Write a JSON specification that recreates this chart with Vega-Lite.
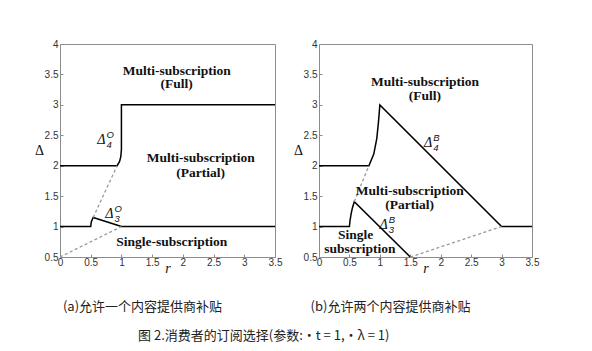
{
  "$schema": "https://vega.github.io/schema/vega-lite/v6.json",
  "background": "white",
  "padding": {"left": 33, "top": 38, "right": 5, "bottom": 5},
  "spacing": 9,
  "config": {
    "view": {"stroke": "#8c8c8c", "strokeWidth": 1},
    "axis": {
      "domain": false, "grid": false, "tickSize": -3, "tickColor": "#8c8c8c", "format": "~g",
      "labelFont": "Liberation Sans", "labelFontSize": 10, "labelColor": "#333333",
      "titleFont": "Liberation Serif", "titleFontWeight": "normal", "titleColor": "#111111"
    },
    "title": {"font": "Noto Sans CJK SC", "fontWeight": "normal", "color": "#222222"}
  },
  "title": {"text": "图 2.消费者的订阅选择(参数:·t = 1,·λ = 1)", "orient": "bottom", "anchor": "middle", "fontSize": 13, "offset": 15, "dx": -23},
  "datasets": {
    "lines": [
      {"panel": "a", "s": "lo", "i": 1, "r": 0, "d": 1},
      {"panel": "a", "s": "lo", "i": 2, "r": 0.5, "d": 1},
      {"panel": "a", "s": "lo", "i": 3, "r": 0.51, "d": 1.08},
      {"panel": "a", "s": "lo", "i": 4, "r": 0.54, "d": 1.15},
      {"panel": "a", "s": "lo", "i": 5, "r": 1, "d": 1},
      {"panel": "a", "s": "lo", "i": 6, "r": 3.5, "d": 1},
      {"panel": "a", "s": "hi", "i": 1, "r": 0, "d": 2},
      {"panel": "a", "s": "hi", "i": 2, "r": 0.93, "d": 2},
      {"panel": "a", "s": "hi", "i": 3, "r": 0.97, "d": 2.07},
      {"panel": "a", "s": "hi", "i": 4, "r": 0.99, "d": 2.15},
      {"panel": "a", "s": "hi", "i": 5, "r": 1, "d": 2.27},
      {"panel": "a", "s": "hi", "i": 6, "r": 1, "d": 3},
      {"panel": "a", "s": "hi", "i": 7, "r": 3.5, "d": 3},
      {"panel": "b", "s": "lo", "i": 1, "r": 0, "d": 1},
      {"panel": "b", "s": "lo", "i": 2, "r": 0.5, "d": 1},
      {"panel": "b", "s": "lo", "i": 3, "r": 0.51, "d": 1.1},
      {"panel": "b", "s": "lo", "i": 4, "r": 0.53, "d": 1.22},
      {"panel": "b", "s": "lo", "i": 5, "r": 0.55, "d": 1.31},
      {"panel": "b", "s": "lo", "i": 6, "r": 0.58, "d": 1.41},
      {"panel": "b", "s": "lo", "i": 7, "r": 1.5, "d": 0.5},
      {"panel": "b", "s": "hi", "i": 1, "r": 0, "d": 2},
      {"panel": "b", "s": "hi", "i": 2, "r": 0.82, "d": 2},
      {"panel": "b", "s": "hi", "i": 3, "r": 0.9, "d": 2.19},
      {"panel": "b", "s": "hi", "i": 4, "r": 0.95, "d": 2.45},
      {"panel": "b", "s": "hi", "i": 5, "r": 0.98, "d": 2.75},
      {"panel": "b", "s": "hi", "i": 6, "r": 1, "d": 3},
      {"panel": "b", "s": "hi", "i": 7, "r": 3, "d": 1},
      {"panel": "b", "s": "hi", "i": 8, "r": 3.5, "d": 1}
    ],
    "dashes": [
      {"panel": "a", "s": "d1", "i": 1, "r": 0, "d": 0.5},
      {"panel": "a", "s": "d1", "i": 2, "r": 1, "d": 1},
      {"panel": "a", "s": "d2", "i": 1, "r": 0.54, "d": 1.15},
      {"panel": "a", "s": "d2", "i": 2, "r": 0.93, "d": 2},
      {"panel": "b", "s": "d1", "i": 1, "r": 1.5, "d": 0.5},
      {"panel": "b", "s": "d1", "i": 2, "r": 3, "d": 1},
      {"panel": "b", "s": "d2", "i": 1, "r": 0.58, "d": 1.41},
      {"panel": "b", "s": "d2", "i": 2, "r": 0.82, "d": 2}
    ],
    "regions": [
      {"panel": "a", "label": "Multi-subscription", "r": 1.9, "d": 3.55},
      {"panel": "a", "label": "(Full)", "r": 1.9, "d": 3.34},
      {"panel": "a", "label": "Multi-subscription", "r": 2.29, "d": 2.12},
      {"panel": "a", "label": "(Partial)", "r": 2.29, "d": 1.88},
      {"panel": "a", "label": "Single-subscription", "r": 1.82, "d": 0.74},
      {"panel": "b", "label": "Multi-subscription", "r": 1.74, "d": 3.38},
      {"panel": "b", "label": "(Full)", "r": 1.74, "d": 3.15},
      {"panel": "b", "label": "Multi-subscription", "r": 1.49, "d": 1.59},
      {"panel": "b", "label": "(Partial)", "r": 1.49, "d": 1.35},
      {"panel": "b", "label": "Single", "r": 0.6, "d": 0.86},
      {"panel": "b", "label": "subscription", "r": 0.67, "d": 0.63}
    ],
    "deltas": [
      {"panel": "a", "sub": "4", "sup": "O", "r": 0.74, "d": 2.42},
      {"panel": "a", "sub": "3", "sup": "O", "r": 0.87, "d": 1.2},
      {"panel": "b", "sub": "4", "sup": "B", "r": 1.86, "d": 2.38},
      {"panel": "b", "sub": "3", "sup": "B", "r": 1.13, "d": 1.03}
    ]
  },
  "hconcat": [
    {
      "width": 215, "height": 213,
      "title": {"text": "(a)允许一个内容提供商补贴", "orient": "bottom", "anchor": "middle", "fontSize": 13, "offset": 26, "dx": -25},
      "encoding": {
        "x": {"field": "r", "type": "quantitative", "scale": {"domain": [0, 3.5], "nice": false, "zero": false},
              "axis": {"values": [0, 0.5, 1, 1.5, 2, 2.5, 3, 3.5], "title": "r", "titleFontStyle": "italic", "titleFontSize": 14, "titlePadding": -6, "labelPadding": 3, "labelFlush": false}},
        "y": {"field": "d", "type": "quantitative", "scale": {"domain": [0.5, 4], "nice": false, "zero": false},
              "axis": {"values": [0.5, 1, 1.5, 2, 2.5, 3, 3.5, 4], "title": "Δ", "titleAngle": 0, "titleFontSize": 14, "titleAlign": "center", "titleBaseline": "middle", "titleX": -21, "titleY": 106, "labelPadding": 5, "labelFlush": false}}
      },
      "layer": [
        {"data": {"name": "lines"}, "transform": [{"filter": "datum.panel == 'a'"}],
         "mark": {"type": "line", "color": "#000000", "strokeWidth": 1.5},
         "encoding": {"detail": {"field": "s"}, "order": {"field": "i", "type": "quantitative"}}},
        {"data": {"name": "dashes"}, "transform": [{"filter": "datum.panel == 'a'"}],
         "mark": {"type": "line", "color": "#999999", "strokeWidth": 1.3, "strokeDash": [3, 2.5]},
         "encoding": {"detail": {"field": "s"}, "order": {"field": "i", "type": "quantitative"}}},
        {"data": {"name": "regions"}, "transform": [{"filter": "datum.panel == 'a'"}],
         "mark": {"type": "text", "font": "Liberation Serif", "fontWeight": "bold", "fontSize": 13.5, "color": "#111111", "baseline": "middle"},
         "encoding": {"text": {"field": "label"}}},
        {"data": {"name": "deltas"}, "transform": [{"filter": "datum.panel == 'a'"}],
         "mark": {"type": "text", "text": "Δ", "font": "Liberation Serif", "fontStyle": "italic", "fontSize": 14, "color": "#111111", "baseline": "middle", "align": "right"}},
        {"data": {"name": "deltas"}, "transform": [{"filter": "datum.panel == 'a'"}],
         "mark": {"type": "text", "font": "Liberation Sans", "fontStyle": "italic", "fontSize": 9.5, "color": "#111111", "baseline": "middle", "align": "left", "dx": 1, "dy": 5},
         "encoding": {"text": {"field": "sub"}}},
        {"data": {"name": "deltas"}, "transform": [{"filter": "datum.panel == 'a'"}],
         "mark": {"type": "text", "font": "Liberation Sans", "fontStyle": "italic", "fontSize": 9.5, "color": "#111111", "baseline": "middle", "align": "left", "dx": 1, "dy": -5},
         "encoding": {"text": {"field": "sup"}}}
      ]
    },
    {
      "width": 213, "height": 213,
      "title": {"text": "(b)允许两个内容提供商补贴", "orient": "bottom", "anchor": "middle", "fontSize": 13, "offset": 26, "dx": -35},
      "encoding": {
        "x": {"field": "r", "type": "quantitative", "scale": {"domain": [0, 3.5], "nice": false, "zero": false},
              "axis": {"values": [0, 0.5, 1, 1.5, 2, 2.5, 3, 3.5], "title": "r", "titleFontStyle": "italic", "titleFontSize": 14, "titlePadding": -6, "labelPadding": 3, "labelFlush": false}},
        "y": {"field": "d", "type": "quantitative", "scale": {"domain": [0.5, 4], "nice": false, "zero": false},
              "axis": {"values": [0.5, 1, 1.5, 2, 2.5, 3, 3.5, 4], "title": "Δ", "titleAngle": 0, "titleFontSize": 14, "titleAlign": "center", "titleBaseline": "middle", "titleX": -21, "titleY": 106, "labelPadding": 5, "labelFlush": false}}
      },
      "layer": [
        {"data": {"name": "lines"}, "transform": [{"filter": "datum.panel == 'b'"}],
         "mark": {"type": "line", "color": "#000000", "strokeWidth": 1.5},
         "encoding": {"detail": {"field": "s"}, "order": {"field": "i", "type": "quantitative"}}},
        {"data": {"name": "dashes"}, "transform": [{"filter": "datum.panel == 'b'"}],
         "mark": {"type": "line", "color": "#999999", "strokeWidth": 1.3, "strokeDash": [3, 2.5]},
         "encoding": {"detail": {"field": "s"}, "order": {"field": "i", "type": "quantitative"}}},
        {"data": {"name": "regions"}, "transform": [{"filter": "datum.panel == 'b'"}],
         "mark": {"type": "text", "font": "Liberation Serif", "fontWeight": "bold", "fontSize": 13.5, "color": "#111111", "baseline": "middle"},
         "encoding": {"text": {"field": "label"}}},
        {"data": {"name": "deltas"}, "transform": [{"filter": "datum.panel == 'b'"}],
         "mark": {"type": "text", "text": "Δ", "font": "Liberation Serif", "fontStyle": "italic", "fontSize": 14, "color": "#111111", "baseline": "middle", "align": "right"}},
        {"data": {"name": "deltas"}, "transform": [{"filter": "datum.panel == 'b'"}],
         "mark": {"type": "text", "font": "Liberation Sans", "fontStyle": "italic", "fontSize": 9.5, "color": "#111111", "baseline": "middle", "align": "left", "dx": 1, "dy": 5},
         "encoding": {"text": {"field": "sub"}}},
        {"data": {"name": "deltas"}, "transform": [{"filter": "datum.panel == 'b'"}],
         "mark": {"type": "text", "font": "Liberation Sans", "fontStyle": "italic", "fontSize": 9.5, "color": "#111111", "baseline": "middle", "align": "left", "dx": 1, "dy": -5},
         "encoding": {"text": {"field": "sup"}}}
      ]
    }
  ]
}
